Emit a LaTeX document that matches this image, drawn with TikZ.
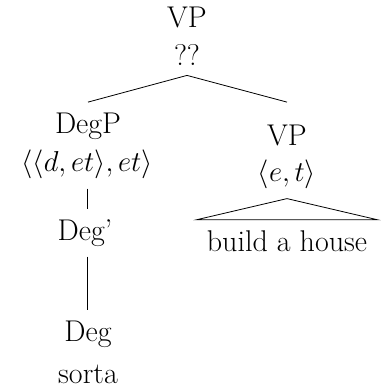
\documentclass[tikz,border=0pt]{standalone}
\usepackage{amsmath}

\begin{document}
\begin{tikzpicture}[x=0.5pt,y=-0.5pt,
    lbl/.style={anchor=base,inner sep=5pt,font=\fontsize{15}{18}\selectfont}]
      \useasboundingbox (0,0) rectangle (383,387);
      % top VP
      \node[lbl] (vp) at (187,27) {VP};
      \node[lbl] (vpt) at (187,65) {??};
      % DegP branch
      \node[lbl] (degp) at (88,133) {DegP};
      \node[lbl] (degpt) at (87,171) {$\langle\langle d,et\rangle,et\rangle$};
      \node[lbl] (degbar) at (85,240) {Deg'};
      \node[lbl] (deg) at (88,341) {Deg};
      \node[lbl] (sorta) at (88,383) {sorta};
      % VP branch
      \node[lbl] (vpr) at (287,145) {VP};
      \node[lbl] (vprt) at (287,181) {$\langle e,t\rangle$};
      \node[lbl] (house) at (287,251) {build a house};
      \draw (vpt.south) -- (degp.north);
      \draw (vpt.south) -- (degp.north -| vpr.north);
      \draw (degpt.south) -- (degpt.south |- degbar.north);
      \draw (degpt.south |- degbar.south) -- (degpt.south |- deg.north);
      \draw (house.north west) -- (vprt.south) -- (house.north east) -- cycle;
\end{tikzpicture}
\end{document}
